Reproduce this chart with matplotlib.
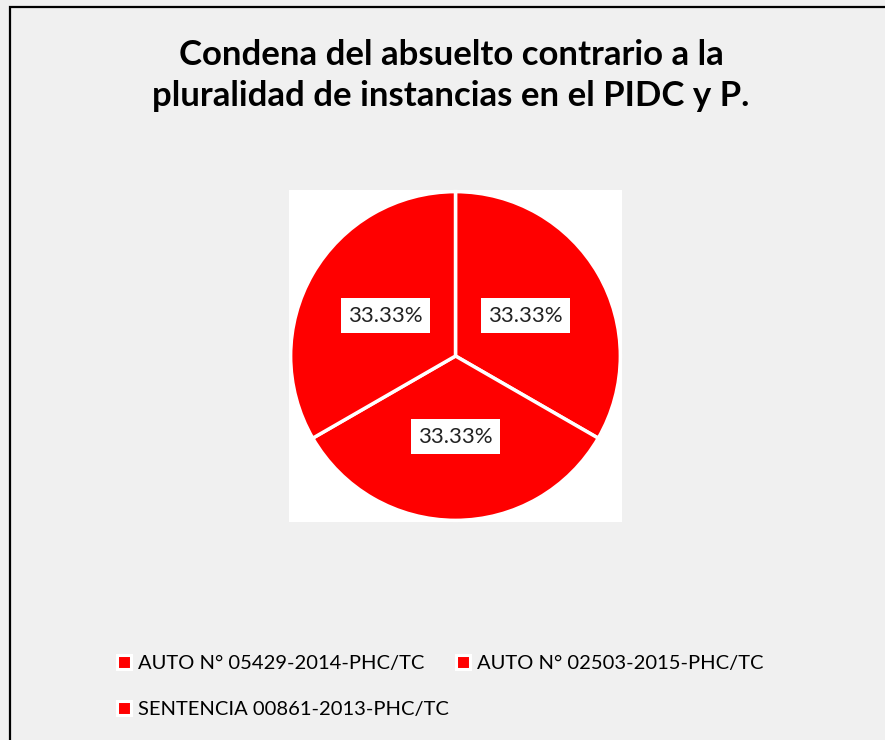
import matplotlib.pyplot as plt
from matplotlib.lines import Line2D
from matplotlib.patches import Rectangle

plt.rcParams['font.family'] = ['Lato', 'DejaVu Sans']

labels = ["AUTO N° 05429-2014-PHC/TC", "AUTO N° 02503-2015-PHC/TC", "SENTENCIA 00861-2013-PHC/TC"]
values = [1, 1, 1]
colors = ["#ff0000", "#ff0000", "#ff0000"]
title_lines = ["Condena del absuelto contrario a la", "pluralidad de instancias en el PIDC y P."]

W, H = 885, 740
fig = plt.figure(figsize=(W / 100, H / 100), dpi=100)
fig.patch.set_facecolor("#f0f0f0")

# marco del gráfico
fig.patches.append(Rectangle((10 / W, -0.05), 1.2, 0.05 + 1 - 7 / H, transform=fig.transFigure,
                             fill=False, edgecolor="black", linewidth=1.6))

# título en dos líneas
for line, yb in zip(title_lines, [65, 106]):
    fig.text(451 / W, 1 - yb / H, line, ha="center", va="baseline", fontsize=25,
             fontweight="bold", color="black")

ax = fig.add_axes([289 / W, 1 - 522 / H, 333 / W, 332 / H])
wedges, texts, autotexts = ax.pie(values, colors=colors, startangle=90, counterclock=False,
                                  autopct="%.2f%%", pctdistance=0.49, radius=1,
                                  wedgeprops=dict(edgecolor="white", linewidth=2.5))
ax.set_frame_on(True)
ax.set_facecolor("white")
for s in ax.spines.values():
    s.set_visible(False)
for t in autotexts:
    t.set_fontsize(16)
    t.set_color("#222222")
    t.set_bbox(dict(facecolor="white", edgecolor="none", pad=5.5))
ax.set_xlim(-1.01, 1.01)
ax.set_ylim(-1.01, 1.01)
ax.set_aspect("auto")
ax.set_xticks([])
ax.set_yticks([])

handles = [Line2D([], [], linestyle="none", marker="s", markersize=10, markerfacecolor=c,
                  markeredgecolor="white", markeredgewidth=2.2) for c in colors]
order = [0, 2, 1]
fig.legend([handles[i] for i in order], [labels[i] for i in order], ncol=2,
           loc="upper left", bbox_to_anchor=(117 / W, 1 - 655 / H), frameon=False,
           fontsize=14.5, handlelength=0.7, handletextpad=0.35, columnspacing=0.35,
           labelspacing=1.45, borderaxespad=0, borderpad=0)

fig.savefig("out.png", dpi=100, facecolor=fig.get_facecolor())
